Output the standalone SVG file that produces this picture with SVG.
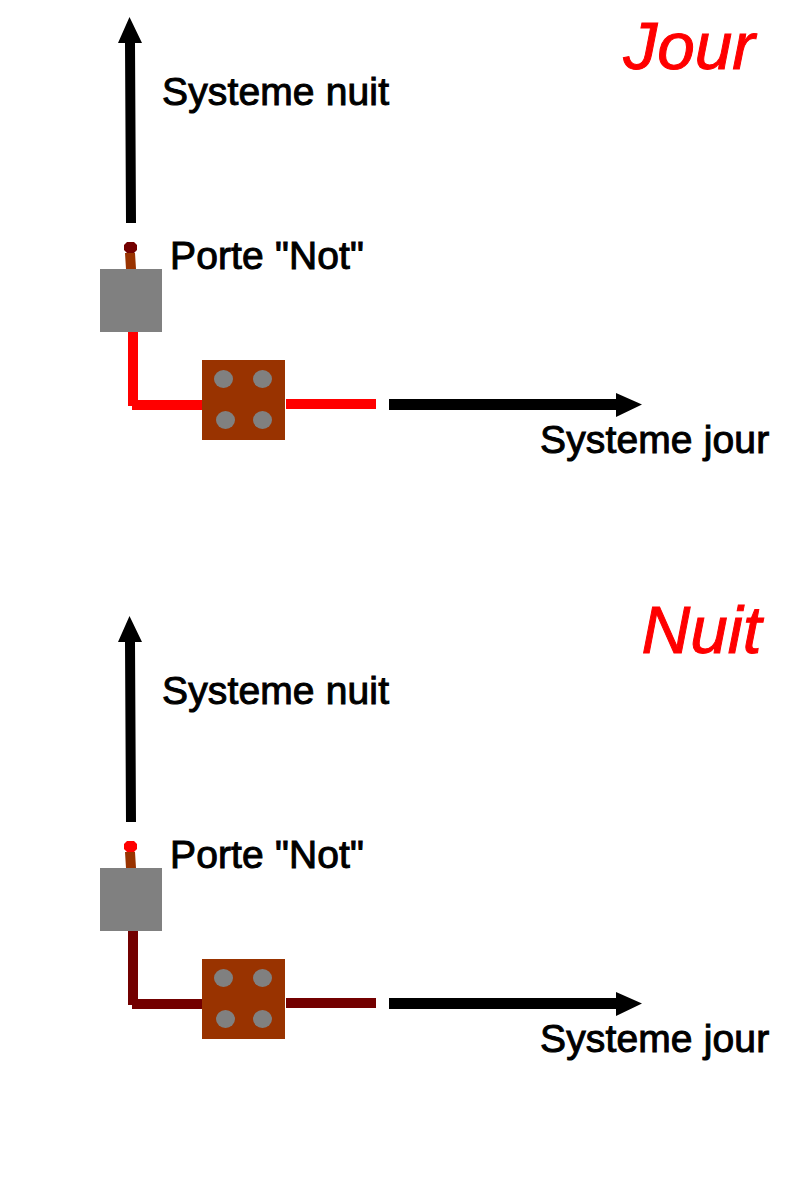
<svg xmlns="http://www.w3.org/2000/svg" width="800" height="1200" viewBox="0 0 800 1200">
<style>
text{font-family:"Liberation Sans",Arial,sans-serif;fill:#000;font-size:39px;stroke:#000;stroke-width:1px;letter-spacing:.14px}
.title{font-style:italic;fill:#f00;stroke:#f00;stroke-width:1px;font-size:67.500px;letter-spacing:0}
.gate{fill:#808080}.brown{fill:#993300}.dot{fill:#808080}.arrow{fill:#000}
.on{fill:#f00}.off{fill:#730000}
</style>
<defs>
<g id="arrows" class="arrow">
<polygon points="129.500,17 142,43 135,43 136,223 126,223 125,43 118,43"/>
<polygon points="389,399 616,399 616,393 642,404.500 616,417 616,410 389,410"/>
</g>
<g id="labels">
<text x="162" y="105">Systeme nuit</text>
<text x="170" y="269">Porte "Not"</text>
<text x="540" y="453">Systeme jour</text>
</g>
<g id="gate">
<polygon class="brown" points="125,253 135,253 136,269 126,269"/>
<rect class="gate" x="100" y="269" width="62" height="63"/>
</g>
<g id="relay">
<rect class="brown" x="202" y="360" width="83" height="80"/>
<ellipse class="dot" cx="223.500" cy="379" rx="9.500" ry="9"/>
<ellipse class="dot" cx="262.500" cy="379" rx="9.500" ry="9"/>
<ellipse class="dot" cx="225.500" cy="420" rx="9.500" ry="9"/>
<ellipse class="dot" cx="262.500" cy="420" rx="9.500" ry="9"/>
</g>
<g id="wire">
<rect x="128" y="332" width="10" height="74"/>
<rect x="132" y="400" width="70" height="10"/>
<rect x="286" y="399" width="90" height="10"/>
</g>
<polygon id="tip" points="127,242 134,242 137,245 137,250 134,253 127,253 124,250 124,245"/>
</defs>
<g id="connectors">
<use href="#arrows"/>
<use href="#arrows" y="599"/>
<use href="#wire" class="on"/>
<use href="#wire" class="off" y="599"/>
</g>
<g id="labels-day"><use href="#labels"/></g>
<g id="labels-night"><use href="#labels" y="599"/></g>
<g id="gate-day"><use href="#gate"/><use href="#tip" class="off"/></g>
<g id="relay-day"><use href="#relay"/></g>
<g id="gate-night"><use href="#gate" y="599"/><use href="#tip" class="on" y="599"/></g>
<g id="relay-night"><use href="#relay" y="599"/></g>
<text class="title" x="623.500" y="69">Jour</text>
<text class="title" x="641.500" y="653">Nuit</text>
</svg>
